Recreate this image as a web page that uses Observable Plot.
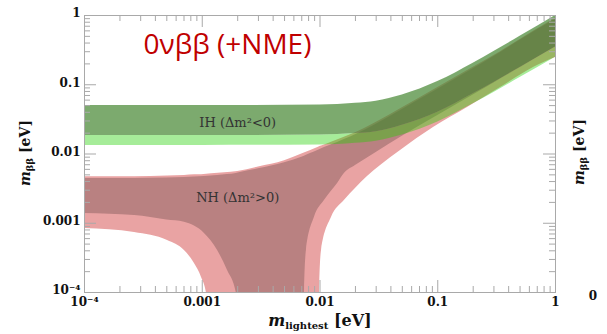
<!DOCTYPE html>
<html>
<head>
<meta charset="utf-8">
<script src="https://cdn.jsdelivr.net/npm/d3@7"></script>
<script src="https://cdn.jsdelivr.net/npm/@observablehq/plot@0.6"></script>
<style>
  html, body { margin: 0; padding: 0; background: #ffffff; }
  #chart { width: 607px; height: 334px; overflow: hidden; }
  #chart svg { display: block; }
</style>
</head>
<body>
<div id="chart"></div>
<script>
// Effective Majorana mass m_bb (eV) versus the lightest neutrino mass (eV),
// including the nuclear-matrix-element spread.

// Inverted hierarchy: common grid, upper edge, inner (dark) and outer (light) lower edges
const ihX      = [1e-4, 1e-3, 1e-2, 2e-2, 3e-2, 5e-2, 0.1, 0.2, 0.3, 0.5, 1];
const ihUpper  = [0.050, 0.050, 0.051, 0.054, 0.058, 0.071, 0.111, 0.205, 0.302, 0.50, 1.0];
const ihInner  = [0.0185, 0.0185, 0.0188, 0.0197, 0.021, 0.026, 0.040, 0.074, 0.108, 0.178, 0.35];
const ihOuter  = [0.0133, 0.0133, 0.0135, 0.0143, 0.0153, 0.0188, 0.029, 0.053, 0.077, 0.127, 0.25];

// Normal hierarchy, dark band (0 = complete cancellation)
const nhDarkX     = [1e-4, 2.66e-4, 5e-4, 7.06e-4, 1.044e-3, 1.35e-3, 1.64e-3, 1.95e-3, 2.1e-3, 3e-3, 5e-3, 7e-3,
                     7.38e-3, 7.67e-3, 8.97e-3, 1.09e-2, 1.41e-2, 1.61e-2, 2e-2, 3e-2, 5e-2, 0.1, 0.2, 0.3, 0.5, 1];
const nhDarkLower = [1.38e-3, 1.29e-3, 1.11e-3, 1.03e-3, 7.1e-4, 4.04e-4, 2.08e-4, 9.7e-5, 0, 0, 0, 0,
                     9.7e-5, 4.04e-4, 1.22e-3, 2.13e-3, 3.75e-3, 5.23e-3, 6.8e-3, 1.05e-2, 1.8e-2, 3.6e-2, 7.1e-2, 0.106, 0.176, 0.35];
const nhDarkUpper = [4.43e-3, 4.43e-3, 4.50e-3, 4.58e-3, 4.72e-3, 4.88e-3, 5.05e-3, 5.23e-3, 5.4e-3, 6.1e-3, 7.5e-3, 9.0e-3,
                     9.3e-3, 9.6e-3, 1.07e-2, 1.24e-2, 1.46e-2, 1.62e-2, 1.9e-2, 2.7e-2, 4.4e-2, 8.6e-2, 0.17, 0.255, 0.44, 0.88];

// Normal hierarchy, light band
const nhLightX     = [1e-4, 2.66e-4, 5.07e-4, 7.06e-4, 8.59e-4, 9.86e-4, 1.087e-3, 1.2e-3, 2e-3, 3e-3, 5e-3, 7e-3, 9.7e-3,
                      9.9e-3, 1.03e-2, 1.253e-2, 1.61e-2, 2e-2, 2.53e-2, 3.27e-2, 4.83e-2, 9.2e-2, 0.179, 0.341, 0.65, 1];
const nhLightLower = [8.4e-4, 7.35e-4, 5.63e-4, 4.04e-4, 2.62e-4, 1.65e-4, 9.7e-5, 0, 0, 0, 0, 0, 0,
                      9.7e-5, 4.04e-4, 1.22e-3, 2.13e-3, 3.18e-3, 4.73e-3, 6.83e-3, 1.124e-2, 2.41e-2, 4.69e-2, 9.12e-2, 0.1775, 0.2477];
const nhLightUpper = [4.7e-3, 4.7e-3, 4.8e-3, 4.9e-3, 5.0e-3, 5.0e-3, 5.1e-3, 5.2e-3, 5.6e-3, 6.5e-3, 8.0e-3, 1.0e-2, 1.25e-2,
                      1.27e-2, 1.3e-2, 1.48e-2, 1.75e-2, 2.03e-2, 2.45e-2, 3.1e-2, 4.5e-2, 8.4e-2, 0.16, 0.30, 0.59, 0.92];

// Axis ticks
const majorTicks  = [1e-4, 1e-3, 1e-2, 1e-1, 1];
const xTickLabels = ["10\u207B\u2074", "0.001", "0.01", "0.1", "1"];
const yTickLabels = ["10\u207B\u2074", "0.001", "0.01", "0.1", "1"];

const FLOOR = 1e-7; // stand-in for m_bb = 0 on the log axis (clipped away)

const ih = ihX.map((x, i) => ({x, hi: ihUpper[i], inner: ihInner[i], outer: ihOuter[i]}));
const nhDark = nhDarkX.map((x, i) => ({x, lo: nhDarkLower[i], hi: nhDarkUpper[i]}));
const nhLight = nhLightX.map((x, i) => ({x, lo: nhLightLower[i], hi: nhLightUpper[i]}));
const xTicks = majorTicks.map((v, i) => ({v, label: xTickLabels[i]}));
const yTicks = majorTicks.map((v, i) => ({v, label: yTickLabels[i]}));
const minorTicks = d3.scaleLog().domain([1e-4, 1]).ticks().filter(t => !majorTicks.some(m => Math.abs(m - t) / m < 1e-9));

const W = 607, H = 334;
const mL = 84, mR = 52, mT = 15, mB = 42;
const innerW = W - mL - mR, innerH = H - mT - mB;
const majorLen = 12, minorLen = 6;
const tickColor = "#a9a9a9";
const lowerOf = d => Math.max(d.lo, FLOOR);

const chart = Plot.plot({
  width: W, height: H,
  marginLeft: mL, marginRight: mR, marginTop: mT, marginBottom: mB,
  x: {type: "log", domain: [1e-4, 1], axis: null},
  y: {type: "log", domain: [1e-4, 1], axis: null},
  style: {background: "#ffffff", fontFamily: "DejaVu Serif", color: "#111"},
  marks: [
    // normal hierarchy
    Plot.areaY(nhLight, {x: "x", y1: lowerOf, y2: "hi", fill: "#e9a3a3", curve: "monotone-x", clip: true}),
    Plot.areaY(nhDark, {x: "x", y1: lowerOf, y2: "hi", fill: "#b98181", curve: "monotone-x", clip: true}),
    // inverted hierarchy (translucent, so the NH bands show through)
    Plot.areaY(ih, {x: "x", y1: "outer", y2: "inner", fill: "#21d000", fillOpacity: 0.4, curve: "monotone-x", clip: true}),
    Plot.areaY(ih, {x: "x", y1: "inner", y2: "hi", fill: "#458630", fillOpacity: 0.7, curve: "monotone-x", clip: true}),

    // frame and inward ticks on all four sides
    Plot.frame({stroke: tickColor}),
    Plot.tickX(majorTicks, {x: d => d, insetTop: innerH - majorLen, stroke: tickColor}),
    Plot.tickX(minorTicks, {x: d => d, insetTop: innerH - minorLen, stroke: tickColor}),
    Plot.tickX(majorTicks, {x: d => d, insetBottom: innerH - majorLen, stroke: tickColor}),
    Plot.tickX(minorTicks, {x: d => d, insetBottom: innerH - minorLen, stroke: tickColor}),
    Plot.tickY(majorTicks, {y: d => d, insetRight: innerW - majorLen, stroke: tickColor}),
    Plot.tickY(minorTicks, {y: d => d, insetRight: innerW - minorLen, stroke: tickColor}),
    Plot.tickY(majorTicks, {y: d => d, insetLeft: innerW - majorLen, stroke: tickColor}),
    Plot.tickY(minorTicks, {y: d => d, insetLeft: innerW - minorLen, stroke: tickColor}),

    // tick labels
    Plot.text(xTicks, {x: "v", text: "label", frameAnchor: "bottom", dy: 13, fontWeight: "bold", fontSize: 12, fill: "#111"}),
    Plot.text(yTicks, {y: "v", text: "label", frameAnchor: "left", dx: -4, dy: -2, textAnchor: "end", fontWeight: "bold", fontSize: 12, fill: "#111"}),

    // annotations
    Plot.text(["0\u03BD\u03B2\u03B2 (+NME)"], {x: 3.17e-4, y: 0.38, text: d => d, textAnchor: "start",
      fontFamily: "Open Sans", fontSize: 28, fill: "#c00000"}),
    Plot.text(["IH (\u0394m\u00B2<0)"], {x: 2.0e-3, y: 0.0285, text: d => d, fontSize: 13, fill: "#333"}),
    Plot.text(["NH (\u0394m\u00B2>0)"], {x: 2.0e-3, y: 0.00235, text: d => d, fontSize: 13, fill: "#333"})
  ]
});

document.getElementById("chart").appendChild(chart);

// axis titles with subscripts
const svg = d3.select(chart);
function massLabel(g, sub, size, subSize) {
  const t = g.append("text").attr("text-anchor", "middle").attr("fill", "#111")
    .attr("font-family", "DejaVu Serif").attr("font-weight", "bold").attr("font-size", size);
  t.append("tspan").attr("font-style", "italic").text("m");
  t.append("tspan").attr("font-size", subSize).attr("dy", 3).text(sub);
  t.append("tspan").attr("dy", -3).text(" [eV]");
  return t;
}
massLabel(svg.append("g").attr("transform", "translate(320,326)"), "lightest", 16, 10);
massLabel(svg.append("g").attr("transform", "translate(30,153) rotate(-90)"), "\u03B2\u03B2", 14, 10);
massLabel(svg.append("g").attr("transform", "translate(584,152) rotate(-90)"), "\u03B2\u03B2", 14, 10);
svg.append("text").attr("x", 593).attr("y", 300).attr("text-anchor", "middle")
  .attr("font-family", "DejaVu Serif").attr("font-weight", "bold").attr("font-size", 12).attr("fill", "#111").text("0");
</script>
</body>
</html>
